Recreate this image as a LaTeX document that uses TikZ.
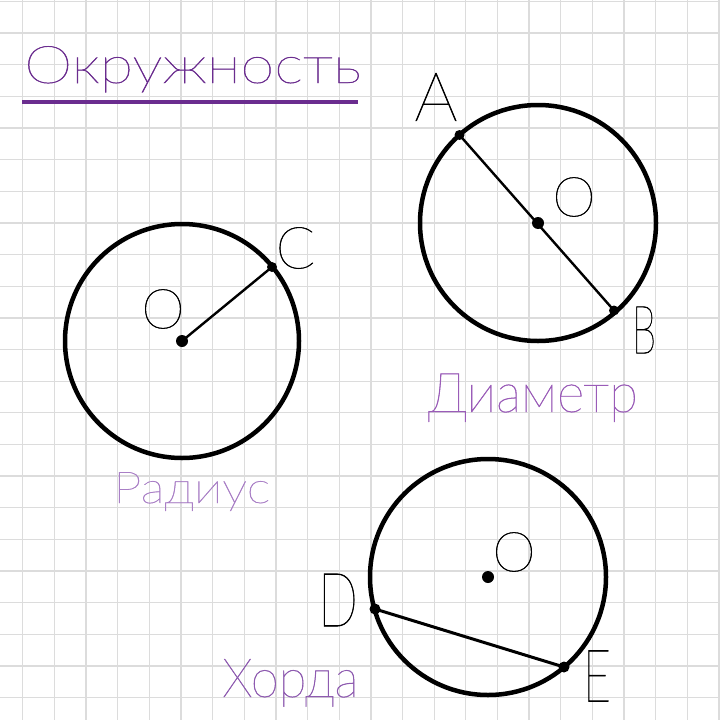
\documentclass[tikz,border=0pt]{standalone}
\usepackage{fontspec}
\IfFontExistsTF{Lato Hairline}{\newfontfamily\thinf{Lato Hairline}[RawFeature={embolden=0.8}]}{%
     \newfontfamily\thinf{Lato}}
\definecolor{gridc}{HTML}{DCDCDC}
\definecolor{titlec}{HTML}{6B2D8F}
\definecolor{diamc}{HTML}{9A5CB8}
\definecolor{radc}{HTML}{A97FC6}
\definecolor{chordc}{HTML}{8E5BB0}
\tikzset{
  gridline/.style={draw=gridc, line width=1.3pt},
  circ/.style={draw=black, line width=4.5pt},
  seg/.style={draw=black, line width=2.6pt},
  enddot/.style={fill=black},
  lettr/.style={inner sep=0pt, text=black},
  wordl/.style={inner sep=0pt, anchor=base west},
}
\begin{document}
\begin{tikzpicture}[x=1pt,y=-1pt]
\useasboundingbox (0,0) rectangle (720,720);
\fill[white] (0,0) rectangle (720,720);
% grid
\foreach \gx in {22.7, 54.35, 86.0, 117.65, 149.3, 180.95, 212.6, 244.25, 275.9, 307.55, 339.2, 370.85, 402.5, 434.15, 465.8, 497.45, 529.1, 560.75, 592.4, 624.05, 655.7, 687.35, 719.0}
  \draw[gridline] (\gx,0) -- (\gx,720);
\foreach \gy in {1.35, 33.0, 64.65, 96.3, 127.95, 159.6, 191.25, 222.9, 254.55, 286.2, 317.85, 349.5, 381.15, 412.8, 444.45, 476.1, 507.75, 539.4, 571.05, 602.7, 634.35, 666.0, 697.65}
  \draw[gridline] (0,\gy) -- (720,\gy);
% title
\node[wordl, text=titlec] (title) at (24,83) {\thinf\fontsize{52}{52}\selectfont\scalebox{1.18}[1]{Окружность}};
\draw[titlec, line width=4pt] (22,102) -- (358,102);

% circle 1: radius
\coordinate (O1) at (182,341);
\coordinate (C) at (272,267);
\draw[circ] (O1) circle[radius=117];
\draw[seg, line width=2.4pt] (O1) -- (C);
\fill[enddot] (O1) circle[radius=6];
\fill[enddot] (C) circle[radius=5];
\node[lettr] (lC) at (295.5,248) {\thinf\fontsize{58}{58}\selectfont C};
\node[lettr] (lO1) at (163,309) {\thinf\fontsize{55}{55}\selectfont O};
\node[wordl, text=radc] (rad) at (113,503) {\thinf\fontsize{44}{44}\selectfont\scalebox{1.15}[1]{Радиус}};

% circle 2: diameter
\coordinate (O2) at (538,223);
\coordinate (A) at (459.5,135);
\coordinate (B) at (614,310.5);
\draw[circ] (O2) circle[radius=118];
\draw[seg, line width=2.4pt] (A) -- (B);
\fill[enddot] (O2) circle[radius=6];
\fill[enddot] (A) circle[radius=5];
\fill[enddot] (B) circle[radius=5];
\node[lettr] (lA) at (436,97) {\thinf\fontsize{68}{68}\selectfont A};
\node[lettr] (lB) at (644,330) {\thinf\fontsize{67}{67}\selectfont\scalebox{0.58}[1]{B}};
\node[lettr] (lO2) at (574,197) {\thinf\fontsize{55}{55}\selectfont O};
\node[wordl, text=diamc] (diam) at (428,412) {\thinf\fontsize{55}{55}\selectfont\scalebox{0.96}[1]{Диаметр}};

% circle 3: chord
\coordinate (O3) at (488,577);
\coordinate (D) at (375,609);
\coordinate (E) at (564,667);
\draw[circ] (O3) circle[radius=118];
\draw[seg, line width=3pt] (D) -- (E);
\fill[enddot] (O3) circle[radius=6];
\fill[enddot] (D) circle[radius=5.5];
\fill[enddot] (E) circle[radius=5.5];
\node[lettr] (lD) at (338,600) {\thinf\fontsize{75}{75}\selectfont\scalebox{0.7}[1]{D}};
\node[lettr] (lE) at (597,676) {\thinf\fontsize{73}{73}\selectfont\scalebox{0.66}[1]{E}};
\node[lettr] (lO3) at (514,552) {\thinf\fontsize{55}{55}\selectfont O};
\node[wordl, text=chordc] (chord) at (222,697) {\thinf\fontsize{54}{54}\selectfont\scalebox{0.94}[1]{Хорда}};
\end{tikzpicture}
\end{document}
